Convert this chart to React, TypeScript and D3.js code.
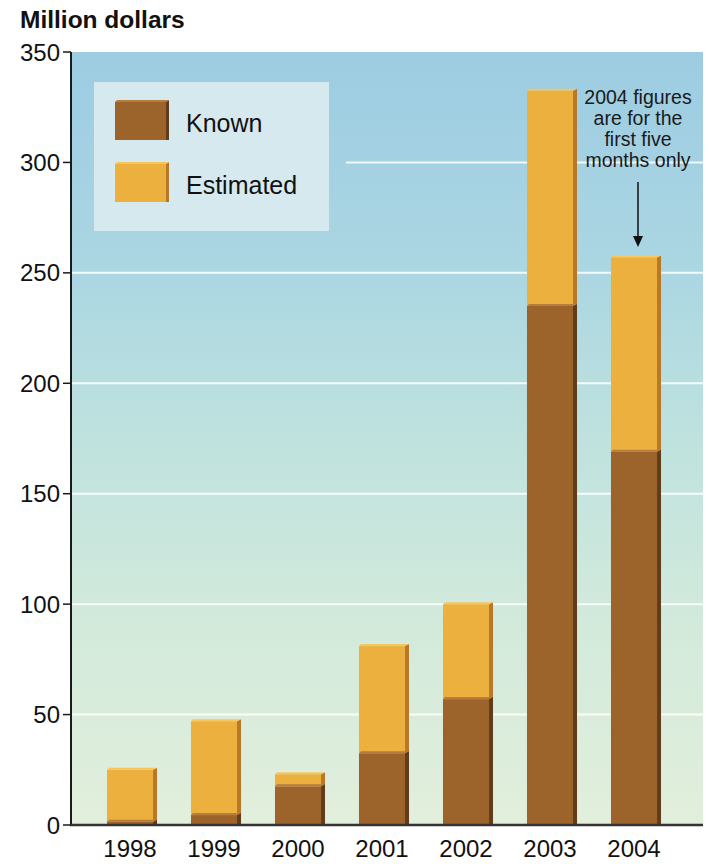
import React from "react";
import * as d3 from "d3";

const years = ["1998", "1999", "2000", "2001", "2002", "2003", "2004"];
const knownValues = [1.5, 4.5, 17.5, 32.5, 57, 235, 169];
const totalValues = [25, 47, 23, 81, 100, 332.5, 257];
const yTicks = [0, 50, 100, 150, 200, 250, 300, 350];
const gridValues = [50, 100, 150, 200, 250, 300];
const noteLines = ["2004 figures", "are for the", "first five", "months only"];
const legendItems = ["Known", "Estimated"];

const W = 709;
const H = 864;
const plotLeft = 71;
const plotRight = 703;
const plotTop = 52;
const plotBottom = 825;

const COL = {
  known: { front: "#9c642b", top: "#b57d3e", side: "#5e3c1c" },
  est: { front: "#ecb03f", top: "#f6c65c", side: "#b97828" },
};

const FONT = "Liberation Sans, Arial, Helvetica, sans-serif";

function Bar3D({ x, w, y0, y1, c, d = 4 }: any) {
  const h = y0 - y1;
  return (
    <g>
      <rect x={x} y={y1} width={w} height={h} fill={c.front} />
      <polygon
        points={`${x + w},${y1} ${x + w + d},${y1 - 2} ${x + w + d},${y0} ${x + w},${y0}`}
        fill={c.side}
      />
      <polygon
        points={`${x},${y1} ${x + 2},${y1 - 2} ${x + w + d},${y1 - 2} ${x + w},${y1}`}
        fill={c.top}
      />
    </g>
  );
}

export default function App() {
  const y = d3.scaleLinear().domain([0, 350]).range([plotBottom, plotTop]);
  const x = d3
    .scaleBand<string>()
    .domain(years)
    .range([88, 676])
    .paddingInner(0.452)
    .paddingOuter(0.226);
  const bw = x.bandwidth();

  const legend = { x: 94, y: 82, w: 235, h: 149 };

  return (
    <svg width={W} height={H} style={{ display: "block", position: "absolute", left: 0, top: 0 }}>
      <defs>
        <linearGradient id="bg" x1="0" y1="0" x2="0" y2="1">
          <stop offset="0" stopColor="#9dcce2" />
          <stop offset="0.3" stopColor="#acd7e2" />
          <stop offset="0.5" stopColor="#bfe2de" />
          <stop offset="0.75" stopColor="#d3eadb" />
          <stop offset="1" stopColor="#e2efdb" />
        </linearGradient>
      </defs>
      <rect x={0} y={0} width={W} height={H} fill="#ffffff" />
      <rect
        x={plotLeft}
        y={plotTop}
        width={plotRight - plotLeft}
        height={plotBottom - plotTop}
        fill="url(#bg)"
      />
      {gridValues.map((v) => {
        const gy = y(v);
        const inLegend = gy > legend.y - 10 && gy < legend.y + legend.h + 10;
        return (
          <line
            key={v}
            x1={inLegend ? legend.x + legend.w + 17 : plotLeft}
            x2={plotRight}
            y1={gy}
            y2={gy}
            stroke="#ffffff"
            strokeOpacity={0.85}
            strokeWidth={2}
          />
        );
      })}
      <rect x={legend.x} y={legend.y} width={legend.w} height={legend.h} fill="#d6e9ee" />
      {legendItems.map((name, i) => {
        const sy = 102 + i * 62;
        const c = i === 0 ? COL.known : COL.est;
        return (
          <g key={name}>
            <Bar3D x={115} w={51} y0={sy + 38} y1={sy} c={c} d={3} />
            <text x={186} y={sy + 30} fontFamily={FONT} fontSize={25} fill="#111">
              {name}
            </text>
          </g>
        );
      })}
      {years.map((yr, i) => {
        const bx = x(yr)!;
        return (
          <g key={yr}>
            <Bar3D x={bx} w={bw} y0={y(knownValues[i])} y1={y(totalValues[i])} c={COL.est} />
            <Bar3D x={bx} w={bw} y0={plotBottom} y1={y(knownValues[i])} c={COL.known} />
          </g>
        );
      })}
      <line x1={plotLeft} x2={plotLeft} y1={plotTop} y2={plotBottom + 1} stroke="#1a1a1a" strokeWidth={2} />
      <line x1={plotLeft - 1} x2={plotRight} y1={plotBottom} y2={plotBottom} stroke="#333333" strokeWidth={2.5} />
      {yTicks.map((t) => (
        <g key={t}>
          <line x1={63} x2={plotLeft} y1={y(t)} y2={y(t)} stroke="#1a1a1a" strokeWidth={1.5} />
          <text
            x={60}
            y={y(t) + 8.5}
            textAnchor="end"
            fontFamily={FONT}
            fontSize={24}
            fill="#111"
          >
            {t}
          </text>
        </g>
      ))}
      {years.map((yr) => (
        <text
          key={yr}
          x={x(yr)! + bw / 2}
          y={857}
          textAnchor="middle"
          fontFamily={FONT}
          fontSize={24}
          fill="#111"
        >
          {yr}
        </text>
      ))}
      <text x={20} y={28} fontFamily={FONT} fontSize={24.5} fontWeight="bold" fill="#111">
        Million dollars
      </text>
      {noteLines.map((l, i) => (
        <text
          key={i}
          x={638}
          y={104 + i * 21}
          textAnchor="middle"
          fontFamily={FONT}
          fontSize={19.5}
          fill="#1a1a1a"
        >
          {l}
        </text>
      ))}
      <line x1={638} x2={638} y1={182} y2={240} stroke="#111" strokeWidth={1.5} />
      <polygon points={`633,236 643,236 638,247`} fill="#111" />
    </svg>
  );
}
